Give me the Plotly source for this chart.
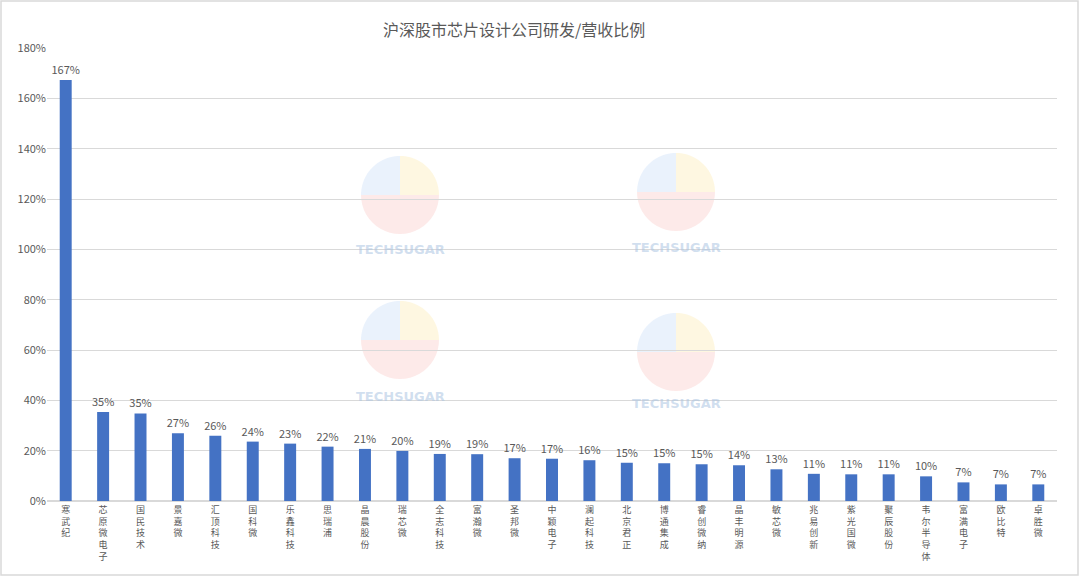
import math
import plotly.graph_objects as go

title = "沪深股市芯片设计公司研发/营收比例"
companies = ["寒武纪", "芯原微电子", "国民技术", "景嘉微", "汇顶科技", "国科微", "乐鑫科技",
             "思瑞浦", "晶晨股份", "瑞芯微", "全志科技", "富瀚微", "圣邦微", "中颖电子",
             "澜起科技", "北京君正", "博通集成", "睿创微纳", "晶丰明源", "敏芯微", "兆易创新",
             "紫光国微", "聚辰股份", "韦尔半导体", "富满电子", "欧比特", "卓胜微"]
ratio_pct = [167.3, 35.4, 34.8, 26.9, 25.9, 23.6, 22.8, 21.6, 20.7, 19.9, 18.7, 18.6, 17.0,
             16.8, 16.2, 15.2, 15.0, 14.6, 14.2, 12.6, 10.8, 10.6, 10.6, 9.8, 7.4, 6.6, 6.6]
y_ticks = [0, 20, 40, 60, 80, 100, 120, 140, 160, 180]

W, H = 1080, 577
L, R, T, B = 47, 23, 48, 76
pw, ph = W - L - R, H - T - B


def px_x(x):
    return (x - L) / pw


def px_y(y):
    return (H - B - y) / ph


vert_labels = ["<br>".join(list(c)) for c in companies]

fig = go.Figure(go.Bar(
    x=companies,
    y=ratio_pct,
    marker=dict(color="#4472C4", line=dict(width=0)),
    width=0.32,
    text=[f"{round(v)}%" for v in ratio_pct],
    textposition="outside",
    constraintext="none",
    textfont=dict(size=11, color="#595959"),
    cliponaxis=False,
    hovertemplate="%{x}: %{y:.1f}%<extra></extra>",
))

font_family = "Noto Sans CJK SC, Noto Sans, sans-serif"

annotations = [dict(text=title, xref="paper", yref="paper", x=px_x(514), y=px_y(29),
                    xanchor="center", yanchor="middle", showarrow=False,
                    font=dict(size=16, color="#595959"))]

shapes = [dict(type="rect", xref="paper", yref="paper",
               x0=px_x(1), x1=px_x(1078), y0=px_y(575), y1=px_y(1),
               line=dict(color="#D9D9D9", width=1.5), fillcolor="rgba(0,0,0,0)", layer="below")]


def sector_path(cx, cy, r, a0, a1):
    pts = [(cx, cy)]
    n = 24
    for i in range(n + 1):
        a = math.radians(a0 + (a1 - a0) * i / n)
        pts.append((cx + r * math.cos(a), cy + r * math.sin(a)))
    return "M " + " L ".join(f"{px_x(x):.5f},{px_y(y):.5f}" for x, y in pts) + " Z"


# faint watermark logos (approximate)
marks = [(400, 195, 250), (676, 192, 247), (400, 340, 396), (676, 352, 403)]
for (cx, cy, ty) in marks:
    r = 39
    for (a0, a1, col) in [(180, 270, "rgba(150,190,240,0.2)"),
                          (270, 360, "rgba(250,220,120,0.22)"),
                          (0, 180, "rgba(245,150,145,0.2)")]:
        shapes.append(dict(type="path", xref="paper", yref="paper",
                           path=sector_path(cx, cy, r, a0, a1),
                           line=dict(width=0), fillcolor=col, layer="below"))
    annotations.append(dict(text="<b>TECHSUGAR</b>", xref="paper", yref="paper",
                            x=px_x(cx), y=px_y(ty), xanchor="center", yanchor="middle",
                            showarrow=False,
                            font=dict(size=13, color="rgba(170,195,225,0.55)",
                                      family="DejaVu Sans")))

fig.update_layout(
    width=W, height=H,
    margin=dict(l=L, r=R, t=T, b=B),
    paper_bgcolor="white", plot_bgcolor="rgba(0,0,0,0)",
    font=dict(family=font_family, color="#595959"),
    showlegend=False,
    annotations=annotations,
    shapes=shapes,
    xaxis=dict(
        tickmode="array", tickvals=companies, ticktext=vert_labels,
        tickfont=dict(size=9, color="#595959"),
        showgrid=False, showline=True, linecolor="#D9D9D9", linewidth=1,
        ticks="", fixedrange=True, automargin=False,
    ),
    yaxis=dict(
        range=[0, 180], tickvals=y_ticks, ticktext=[f"{v}%" for v in y_ticks],
        tickfont=dict(size=11, color="#595959"),
        showgrid=True, gridcolor="#D9D9D9", gridwidth=1,
        zeroline=True, zerolinecolor="#D9D9D9", showline=False, ticks="",
        fixedrange=True, automargin=False,
    ),
)

fig.write_html("out.html", config={"displayModeBar": False},
               post_script="document.body.style.margin='0';document.body.style.overflow='hidden';")
